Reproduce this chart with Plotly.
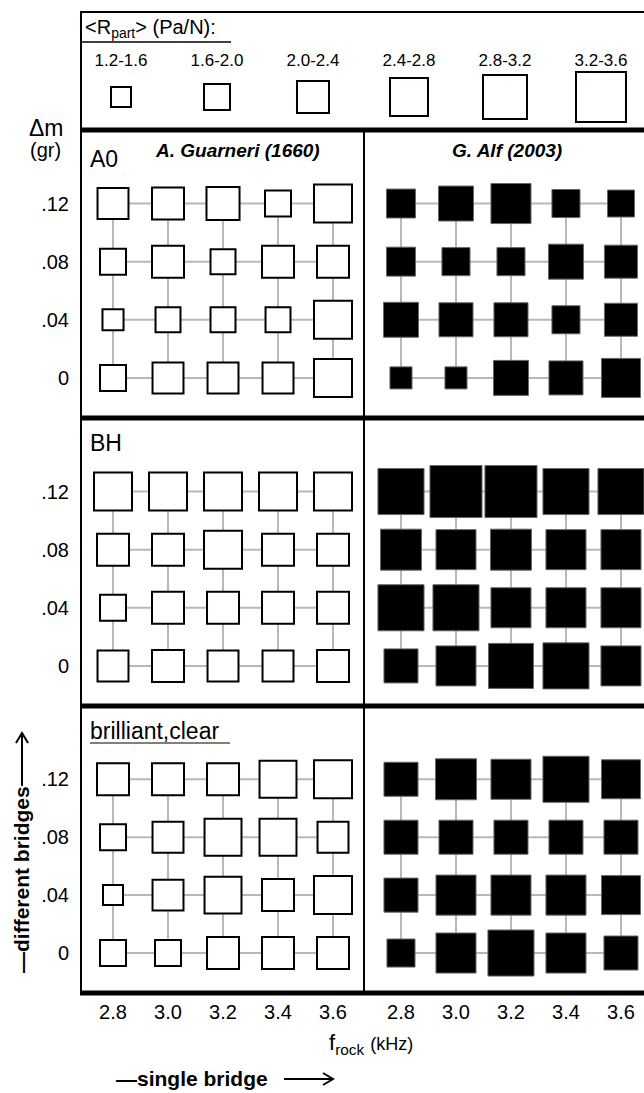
import plotly.graph_objects as go

W, H = 644, 1093
FONT = "Liberation Sans, Arial, sans-serif"

# ---------------- data ----------------
f_rock = [2.8, 3.0, 3.2, 3.4, 3.6]            # kHz (columns)
f_ticks = ["2.8", "3.0", "3.2", "3.4", "3.6"]
dm = [0.12, 0.08, 0.04, 0.0]                   # gr (rows, top to bottom)
dm_ticks = [".12", ".08", ".04", "0"]

legend_labels = ["1.2-1.6", "1.6-2.0", "2.0-2.4", "2.4-2.8", "2.8-3.2", "3.2-3.6"]
legend_R = [1.4, 1.8, 2.2, 2.6, 3.0, 3.4]

conditions = ["A0", "BH", "brilliant,clear"]
violins = ["A. Guarneri (1660)", "G. Alf (2003)"]

# <R_part> (Pa/N), rows = dm (.12, .08, .04, 0), cols = f_rock
guarneri_A0 = [[2.13, 2.20, 2.27, 1.80, 2.60],
               [1.80, 2.20, 1.73, 2.20, 2.20],
               [1.47, 1.73, 1.73, 1.73, 2.60],
               [1.80, 2.13, 2.13, 2.13, 2.60]]
alf_A0 = [[1.93, 2.33, 2.67, 1.87, 1.80],
          [1.93, 1.87, 1.87, 2.33, 2.20],
          [2.33, 2.27, 2.27, 1.87, 2.20],
          [1.47, 1.47, 2.33, 2.27, 2.60]]
guarneri_BH = [[2.60, 2.60, 2.60, 2.60, 2.60],
               [2.20, 2.20, 2.60, 2.20, 2.20],
               [1.80, 2.20, 2.20, 2.20, 2.20],
               [2.13, 2.20, 2.13, 2.13, 2.20]]
alf_BH = [[3.07, 3.47, 3.47, 3.07, 3.07],
          [2.73, 2.67, 2.73, 2.67, 2.67],
          [3.07, 3.07, 2.67, 2.67, 2.67],
          [2.27, 2.67, 3.00, 3.07, 2.67]]
guarneri_bc = [[2.20, 2.20, 2.20, 2.53, 2.60],
               [1.80, 2.13, 2.53, 2.53, 2.13],
               [1.40, 2.13, 2.53, 2.20, 2.60],
               [1.80, 1.80, 2.20, 2.20, 2.20]]
alf_bc = [[2.27, 2.73, 2.67, 3.07, 2.60],
          [2.27, 2.27, 2.27, 2.27, 2.27],
          [2.27, 2.67, 2.67, 2.67, 2.60],
          [1.87, 2.67, 3.07, 2.67, 2.27]]

panels = [[guarneri_A0, alf_A0], [guarneri_BH, alf_BH], [guarneri_bc, alf_bc]]


def outer_px(R):
    return 22 + (R - 1.4) * 15


def X(px):
    return px / W


def Y(py):
    return 1 - py / H


fig = go.Figure()

# panel geometry (px)
row_tops = [130, 418, 706]
row_bots = [418, 706, 993]
col_dom = [[X(81), X(364)], [X(364), 1.0]]
col_rng = [[2.6836, 3.7127], [2.6655, 3.6837]]
y_rng = [-0.0276, 0.1706]

GRID = "#b8b8b8"
layout_axes = {}
for r in range(3):
    for c in range(2):
        i = r * 2 + c + 1
        xa = "x" if i == 1 else f"x{i}"
        ya = "y" if i == 1 else f"y{i}"
        data = panels[r][c]
        # grid lines
        for d in dm:
            fig.add_trace(go.Scatter(x=f_rock, y=[d] * len(f_rock), mode="lines",
                                     line=dict(color=GRID, width=2), xaxis=xa, yaxis=ya,
                                     hoverinfo="skip", showlegend=False))
        for f in f_rock:
            fig.add_trace(go.Scatter(x=[f] * len(dm), y=dm, mode="lines",
                                     line=dict(color=GRID, width=2), xaxis=xa, yaxis=ya,
                                     hoverinfo="skip", showlegend=False))
        xs, ys, sz = [], [], []
        for ri, d in enumerate(dm):
            for ci, f in enumerate(f_rock):
                xs.append(f)
                ys.append(d)
                sz.append(outer_px(data[ri][ci]))
        if c == 0:
            marker = dict(symbol="square", size=[s - 2 for s in sz], color="white",
                          opacity=1, line=dict(color="black", width=2))
        else:
            marker = dict(symbol="square", size=[s - 1 for s in sz], color="black",
                          opacity=1, line=dict(color="#666666", width=1))
        fig.add_trace(go.Scatter(x=xs, y=ys, mode="markers", marker=marker,
                                 xaxis=xa, yaxis=ya, cliponaxis=False,
                                 hoverinfo="skip", showlegend=False))
        kx = "xaxis" if i == 1 else f"xaxis{i}"
        ky = "yaxis" if i == 1 else f"yaxis{i}"
        layout_axes[kx] = dict(domain=col_dom[c], range=col_rng[c], anchor=ya,
                               showgrid=False, zeroline=False, showline=False,
                               showticklabels=(r == 2), tickvals=f_rock, ticktext=f_ticks,
                               ticks="", tickfont=dict(family=FONT, size=20, color="black"),
                               ticklabelstandoff=5, fixedrange=True)
        layout_axes[ky] = dict(domain=[Y(row_bots[r]), Y(row_tops[r])], range=y_rng,
                               anchor=xa, showgrid=False, zeroline=False, showline=False,
                               showticklabels=(c == 0), tickvals=dm, ticktext=dm_ticks,
                               ticks="", tickfont=dict(family=FONT, size=20, color="black"),
                               ticklabelstandoff=11, fixedrange=True)

# legend axis
fig.add_trace(go.Scatter(x=list(range(len(legend_R))), y=[0.28] * len(legend_R), mode="markers",
                         marker=dict(symbol="square", size=[outer_px(v) - 2 for v in legend_R],
                                     color="white", opacity=1,
                                     line=dict(color="black", width=2)),
                         xaxis="x7", yaxis="y7", cliponaxis=False, hoverinfo="skip",
                         showlegend=False))
fig.add_trace(go.Scatter(x=list(range(len(legend_R))), y=[0.575] * len(legend_R), mode="text",
                         text=legend_labels, textposition="middle center",
                         textfont=dict(family=FONT, size=17, color="black"),
                         xaxis="x7", yaxis="y7", cliponaxis=False, hoverinfo="skip",
                         showlegend=False))
layout_axes["xaxis7"] = dict(domain=[X(80), 1.0], range=[-0.427, 5.448], anchor="y7",
                             visible=False, fixedrange=True)
layout_axes["yaxis7"] = dict(domain=[Y(130), Y(12)], range=[0, 1], anchor="x7",
                             visible=False, fixedrange=True)

# frame shapes
shapes = []
def hline(y, x0, x1, w, color="black"):
    shapes.append(dict(type="line", xref="paper", yref="paper", x0=X(x0), x1=X(x1),
                       y0=Y(y), y1=Y(y), line=dict(color=color, width=w)))
def vline(x, y0, y1, w, color="black"):
    shapes.append(dict(type="line", xref="paper", yref="paper", x0=X(x), x1=X(x),
                       y0=Y(y0), y1=Y(y1), line=dict(color=color, width=w)))
def polyline(pts, w):
    path = "M " + " L ".join(f"{X(px):.5f},{Y(py):.5f}" for px, py in pts)
    shapes.append(dict(type="path", xref="paper", yref="paper", path=path,
                       line=dict(color="black", width=w)))

hline(12, 80, 644, 2)
vline(81, 11, 995, 2)
vline(364, 130, 993, 2)
for yy in [130, 418, 706, 993]:
    hline(yy, 80, 644, 5)
hline(42, 80, 231, 1.5)              # legend title underline
hline(743, 90, 230, 1.5, "#555555")  # brilliant,clear underline

# arrows (line + open head)
hline(1079, 284, 332, 2)
polyline([(323, 1073), (333, 1079), (323, 1085)], 2)
vline(22, 786, 735, 2)
polyline([(16, 743), (22, 733), (28, 743)], 2)

ann = []
def text(s, x, y, size, xanchor="left", yanchor="middle", angle=0):
    ann.append(dict(text=s, x=X(x), y=Y(y), xref="paper", yref="paper", showarrow=False,
                    xanchor=xanchor, yanchor=yanchor, textangle=angle,
                    font=dict(family=FONT, size=size, color="black")))

text("&lt;R<sub>part</sub>&gt; (Pa/N):", 83, 29, 20)
text("Δm", 66, 128, 23, xanchor="right")
text("(gr)", 63, 150, 20, xanchor="right")
for r, lab in enumerate(conditions):
    text(lab, 88, row_tops[r] + 29 if r == 0 else row_tops[r] + 25, 23)
text("<b><i>" + violins[0] + "</i></b>", 237, 150, 19, xanchor="center")
text("<b><i>" + violins[1] + "</i></b>", 507, 150, 19, xanchor="center")
text("f<sub>rock</sub> <span style='font-size:18px'>(kHz)</span>", 371, 1044, 22, xanchor="center")
text("<b>—single bridge</b>", 114, 1078, 21)
text("<b>—different bridges</b>", 22, 880, 21, xanchor="center", angle=-90)

fig.update_layout(width=W, height=H, margin=dict(l=0, r=0, t=0, b=0),
                  paper_bgcolor="white", plot_bgcolor="rgba(0,0,0,0)",
                  showlegend=False, shapes=shapes, annotations=ann,
                  font=dict(family=FONT, color="black"), **layout_axes)

fig.write_html("out.html", config={"displayModeBar": False})
